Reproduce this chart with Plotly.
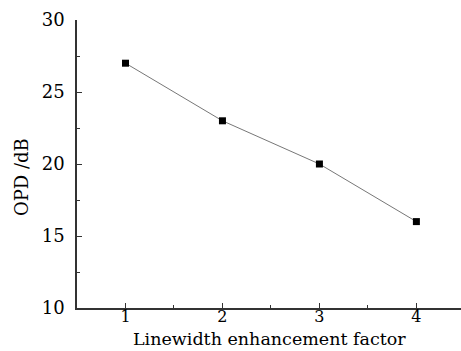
import plotly.graph_objects as go

x_vals = [1, 2, 3, 4]
opd_db = [27, 23, 20, 16]

fig = go.Figure()
fig.add_trace(go.Scatter(
    x=x_vals, y=opd_db, mode="lines+markers",
    line=dict(color="#777777", width=1),
    marker=dict(symbol="square", size=7, color="black"),
    showlegend=False,
))

font = "DejaVu Serif, Liberation Serif, serif"
fig.update_layout(
    width=461, height=351,
    margin=dict(l=77, r=0, t=20, b=43),
    paper_bgcolor="white", plot_bgcolor="white",
    font=dict(family=font, color="black", size=17),
)
fig.update_xaxes(
    range=[0.5, 4.46], tickvals=[1, 2, 3, 4], showgrid=False, zeroline=False,
    showline=True, linecolor="#333333", linewidth=1.5,
    ticks="inside", ticklen=5, tickcolor="#333333",
    minor=dict(tickvals=[1.5, 2.5, 3.5], ticks="inside", ticklen=3, tickcolor="#333333"),
    tickfont=dict(size=16), ticklabelstandoff=-7,
)
fig.update_yaxes(
    range=[10, 30], tickvals=[10, 15, 20, 25, 30], showgrid=False, zeroline=False,
    showline=True, linecolor="#333333", linewidth=1.5,
    ticks="inside", ticklen=5, tickcolor="#333333",
    minor=dict(tickvals=[12.5, 17.5, 22.5, 27.5], ticks="inside", ticklen=3, tickcolor="#333333"),
    tickfont=dict(size=18), ticklabelstandoff=7,
)
fig.add_annotation(
    text="Linewidth enhancement factor", xref="paper", yref="paper",
    x=0.5, y=-(339 - 308) / 288, xanchor="center", yanchor="middle", showarrow=False,
    font=dict(size=17.5),
)
fig.add_annotation(
    text="OPD /dB", xref="paper", yref="paper", textangle=-90,
    x=-(77 - 21) / 384, y=(308 - 177) / 288, xanchor="center", yanchor="middle",
    showarrow=False, font=dict(size=18),
)
fig.write_html("out.html")
